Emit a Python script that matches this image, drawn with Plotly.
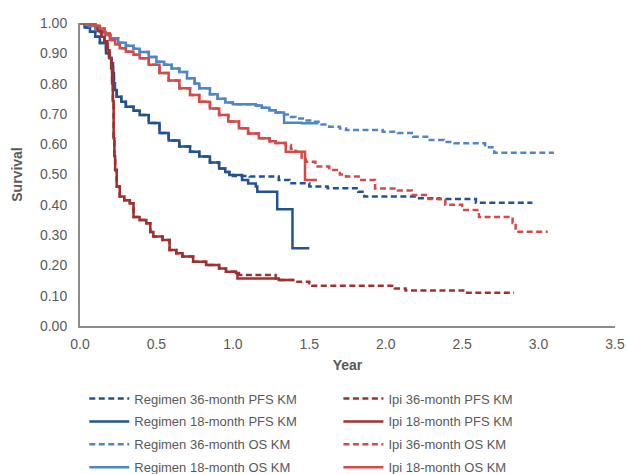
import plotly.graph_objects as go

# ---- Regimen PFS ----
reg_pfs_early_t = [0, 0.03, 0.065, 0.1, 0.13, 0.17, 0.19, 0.206, 0.216, 0.222, 0.228, 0.24, 0.27, 0.30,
                   0.35, 0.39, 0.45, 0.52, 0.58, 0.65, 0.72, 0.78, 0.85, 0.91, 0.95, 0.977]
reg_pfs_early_s = [1.0, 0.985, 0.971, 0.955, 0.934, 0.90, 0.885, 0.867, 0.835, 0.80, 0.779, 0.757, 0.74, 0.724,
                   0.71, 0.696, 0.67, 0.637, 0.612, 0.592, 0.575, 0.559, 0.54, 0.52, 0.508, 0.498]
reg_pfs36_tail_t = [1.0, 1.11, 1.30, 1.37, 1.50, 1.62, 1.82, 1.86, 2.2, 2.35, 2.59, 2.96]
reg_pfs36_tail_s = [0.495, 0.493, 0.482, 0.471, 0.46, 0.455, 0.443, 0.427, 0.422, 0.419, 0.407, 0.407]
reg_pfs18_tail_t = [1.06, 1.10, 1.15, 1.16, 1.29, 1.39, 1.50]
reg_pfs18_tail_s = [0.482, 0.47, 0.46, 0.443, 0.385, 0.257, 0.257]

# ---- Regimen OS ----
reg_os_early_t = [0, 0.03, 0.06, 0.1, 0.13, 0.17, 0.2, 0.25, 0.3, 0.35, 0.39, 0.45, 0.5, 0.55, 0.6, 0.65,
                  0.7, 0.75, 0.78, 0.85, 0.9, 0.95, 1.0, 1.15, 1.19, 1.24, 1.28]
reg_os_early_s = [1.0, 0.995, 0.99, 0.98, 0.97, 0.96, 0.95, 0.935, 0.925, 0.915, 0.904, 0.888, 0.872, 0.862,
                  0.85, 0.838, 0.818, 0.8, 0.785, 0.765, 0.75, 0.738, 0.732, 0.728, 0.72, 0.712, 0.705]
reg_os36_tail_t = [1.335, 1.38, 1.41, 1.47, 1.52, 1.58, 1.63, 1.70, 1.74, 1.98, 2.08, 2.18, 2.28, 2.38,
                   2.45, 2.65, 2.71, 3.10]
reg_os36_tail_s = [0.698, 0.69, 0.685, 0.678, 0.674, 0.665, 0.658, 0.652, 0.647, 0.641, 0.637, 0.625, 0.614,
                   0.607, 0.603, 0.59, 0.572, 0.572]
reg_os18_tail_t = [1.335, 1.45, 1.56]
reg_os18_tail_s = [0.671, 0.669, 0.669]

# ---- Ipi PFS ----
ipi_pfs_early_t = [0, 0.05, 0.1, 0.117, 0.14, 0.16, 0.18, 0.193, 0.204, 0.21, 0.215, 0.22, 0.225, 0.23,
                   0.24, 0.26, 0.29, 0.326, 0.35, 0.39, 0.434, 0.46, 0.48, 0.54, 0.586, 0.63, 0.67, 0.74,
                   0.825, 0.91, 0.955, 1.02]
ipi_pfs_early_s = [1.0, 0.997, 0.99, 0.974, 0.955, 0.94, 0.91, 0.884, 0.851, 0.80, 0.742, 0.62, 0.56, 0.515,
                   0.46, 0.427, 0.415, 0.405, 0.36, 0.35, 0.339, 0.31, 0.295, 0.284, 0.251, 0.24, 0.229,
                   0.212, 0.201, 0.19, 0.179, 0.175]
ipi_pfs36_tail_t = [1.04, 1.28, 1.30, 1.41, 1.50, 1.52, 2.06, 2.13, 2.52, 2.84]
ipi_pfs36_tail_s = [0.168, 0.157, 0.152, 0.146, 0.141, 0.133, 0.124, 0.117, 0.11, 0.11]
ipi_pfs18_tail_t = [1.03, 1.30, 1.40]
ipi_pfs18_tail_s = [0.157, 0.152, 0.152]

# ---- Ipi OS ----
ipi_os_early_t = [0, 0.05, 0.1, 0.13, 0.16, 0.195, 0.23, 0.26, 0.3, 0.35, 0.39, 0.45, 0.52, 0.58, 0.65,
                  0.72, 0.78, 0.85, 0.91, 0.97, 1.04, 1.1, 1.17, 1.24, 1.28]
ipi_os_early_s = [1.0, 0.997, 0.99, 0.982, 0.965, 0.944, 0.93, 0.917, 0.905, 0.895, 0.884, 0.862, 0.835,
                  0.81, 0.785, 0.762, 0.74, 0.718, 0.696, 0.675, 0.653, 0.635, 0.62, 0.61, 0.604]
ipi_os36_tail_t = [1.346, 1.38, 1.41, 1.45, 1.477, 1.54, 1.63, 1.70, 1.74, 1.84, 1.93, 2.08, 2.17, 2.28,
                   2.39, 2.50, 2.61, 2.83, 2.85, 3.06]
ipi_os36_tail_s = [0.597, 0.585, 0.575, 0.555, 0.542, 0.526, 0.515, 0.50, 0.493, 0.482, 0.454, 0.447,
                   0.432, 0.419, 0.40, 0.383, 0.36, 0.34, 0.311, 0.311]
ipi_os18_tail_t = [1.346, 1.472, 1.55]
ipi_os18_tail_s = [0.575, 0.482, 0.482]

names = ["Regimen 36-month PFS KM", "Regimen 18-month PFS KM", "Regimen 36-month OS KM",
         "Regimen 18-month OS KM", "Ipi 36-month PFS KM", "Ipi 18-month PFS KM",
         "Ipi 36-month OS KM", "Ipi 18-month OS KM"]

C_REG_PFS = "#24528f"
C_REG_OS = "#4f86c6"
C_IPI_PFS = "#a0302f"
C_IPI_OS = "#d24b48"
DASH = "6px,3.5px"

series = [
    (names[0], reg_pfs_early_t + reg_pfs36_tail_t, reg_pfs_early_s + reg_pfs36_tail_s, C_REG_PFS, DASH, "legend", 1),
    (names[1], reg_pfs_early_t + reg_pfs18_tail_t, reg_pfs_early_s + reg_pfs18_tail_s, C_REG_PFS, "solid", "legend", 2),
    (names[2], reg_os_early_t + reg_os36_tail_t, reg_os_early_s + reg_os36_tail_s, C_REG_OS, DASH, "legend", 3),
    (names[3], reg_os_early_t + reg_os18_tail_t, reg_os_early_s + reg_os18_tail_s, C_REG_OS, "solid", "legend", 4),
    (names[4], ipi_pfs_early_t + ipi_pfs36_tail_t, ipi_pfs_early_s + ipi_pfs36_tail_s, C_IPI_PFS, DASH, "legend2", 1),
    (names[5], ipi_pfs_early_t + ipi_pfs18_tail_t, ipi_pfs_early_s + ipi_pfs18_tail_s, C_IPI_PFS, "solid", "legend2", 2),
    (names[6], ipi_os_early_t + ipi_os36_tail_t, ipi_os_early_s + ipi_os36_tail_s, C_IPI_OS, DASH, "legend2", 3),
    (names[7], ipi_os_early_t + ipi_os18_tail_t, ipi_os_early_s + ipi_os18_tail_s, C_IPI_OS, "solid", "legend2", 4),
]

fig = go.Figure()
for name, t, s, color, dash, leg, rank in series:
    fig.add_trace(go.Scatter(
        x=t, y=s, mode="lines", name=name, line=dict(color=color, width=2.5, dash=dash, shape="hv"),
        legend=leg, legendrank=rank, legendgroup=name,
    ))

FONT = "Liberation Sans, Arial, sans-serif"
GRAY = "#595959"
legend_common = dict(
    yanchor="top", xanchor="left", y=-0.19, bgcolor="rgba(0,0,0,0)",
    font=dict(family=FONT, size=13, color=GRAY), traceorder="grouped", tracegroupgap=3,
    itemwidth=40,
)
fig.update_layout(
    width=627, height=474,
    margin=dict(l=80, r=12, t=23, b=148, autoexpand=False),
    plot_bgcolor="white", paper_bgcolor="white",
    font=dict(family=FONT, color=GRAY, size=14),
    showlegend=True,
    legend=dict(x=0.008, **legend_common),
    legend2=dict(x=0.483, **legend_common),
    xaxis=dict(range=[0, 3.5], dtick=0.5, tickformat=".1f", showgrid=False, zeroline=False,
               showline=True, linecolor="#8c8c8c", linewidth=2, ticks="", ticklabelstandoff=4,
               tickfont=dict(size=14, color=GRAY),
               title=dict(text="<b>Year</b>", font=dict(size=14, color=GRAY), standoff=9)),
    yaxis=dict(range=[0, 1.0], dtick=0.1, tickformat=".2f", showgrid=False, zeroline=False,
               showline=True, linecolor="#8c8c8c", linewidth=2, ticks="", ticklabelstandoff=8,
               tickfont=dict(size=14, color=GRAY),
               title=dict(text="<b>Survival</b>", font=dict(size=14, color=GRAY), standoff=14)),
)

fig.write_html("out.html")
